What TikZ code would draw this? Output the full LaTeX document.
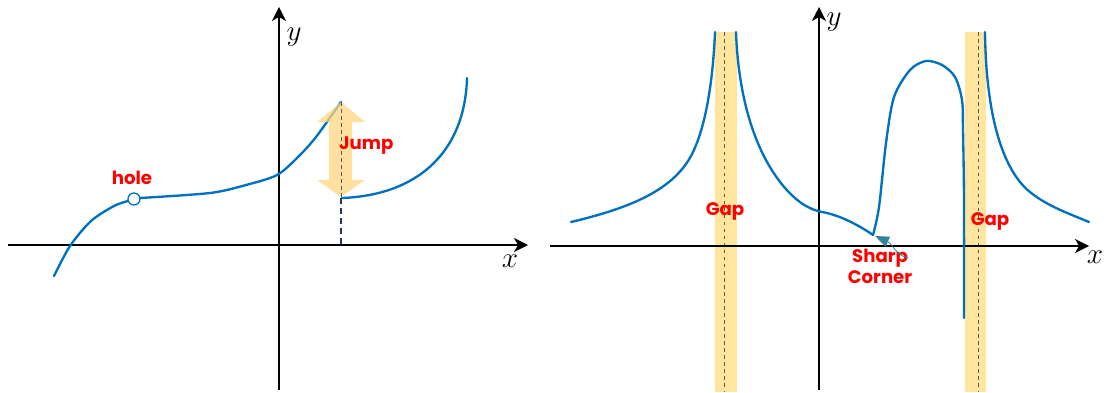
\documentclass[tikz,border=0pt]{standalone}
\usepackage{fontspec}
\newfontfamily\lblfont{Poppins}
\usepackage{tikz}
\usetikzlibrary{arrows.meta}
\definecolor{curveblue}{RGB}{0,112,192}
\definecolor{gapyellow}{RGB}{255,224,140}
\definecolor{jumpnavy}{RGB}{31,56,100}
\definecolor{cornerteal}{RGB}{49,132,155}
\tikzset{
  axis/.style={line width=1.5pt, -{Stealth[length=0.42cm, width=0.42cm, inset=0.12cm]}},
  graph/.style={curveblue, line width=2pt, line cap=round, line join=round},
  axislbl/.style={font=\fontsize{26}{28}\selectfont, inner sep=0pt},
  redlbl/.style={red, font=\lblfont\bfseries\fontsize{15.5}{17}\selectfont, inner sep=0pt},
  gapband/.style={fill=gapyellow, opacity=0.85},
  gapline/.style={black!65, dashed, line width=0.7pt},
  holept/.style={circle, draw=curveblue, fill=white, line width=1.1pt, minimum size=0.36cm, inner sep=0pt},
}

\begin{document}
\begin{tikzpicture}[x=0.03cm, y=-0.03cm]
	\useasboundingbox (0,0) rectangle (1104,392);
	%left graph: hole and jump
	\draw [axis] (8,245) -- (528,245);
	\draw [axis] (279,390) -- (279,7);
	\node [axislbl] (xlabL) at (510,261) {$x$};
	\node [axislbl] (ylabL) at (294,37) {$y$};
	\draw [graph] plot[smooth] coordinates {(54,276) (70,246) (91,221) (114,206) (128,201)};
	\node [holept] (hole) at (134,199) {};
	\draw [graph] plot[smooth] coordinates {(140,198) (210,193) (246,185) (277,175) (298,157) (316,137) (341,102)};
	\draw [graph] (342,198) .. controls (420,195) and (465,150) .. (467,78);
	\fill [gapyellow!90!orange, opacity=0.75] (341,102) -- (365,122) -- (352,122) -- (352,180) -- (365,180) -- (341,197)
		-- (317,180) -- (329,180) -- (329,122) -- (317,122) -- cycle;
	\draw [gapline] (341,102) -- (341,198);
	\draw [jumpnavy, line width=1.4pt, dash pattern=on 5pt off 3.5pt] (341,198) -- (341,245);
	\node [redlbl] (holelbl) at (132,178) {hole};
	\node [redlbl, anchor=west] (jumplbl) at (339,146) {Jump};
	%right graph: gaps and sharp corner
	\fill [gapband] (715,32) rectangle (737,392);
	\fill [gapband] (965,32) rectangle (986,392);
	\draw [gapline] (724,32) -- (724,392);
	\draw [gapline] (978,32) -- (978,392);
	\draw [axis] (550,246) -- (1089,246);
	\draw [axis] (819,390) -- (819,7);
	\node [axislbl] (xlabR) at (1095,257) {$x$};
	\node [axislbl] (ylabR) at (834,22) {$y$};
	\draw [graph] (571,222) .. controls (630,208) and (675,190) .. (693,152) .. controls (706,125) and (713,80) .. (715,32);
	\draw [graph] (736,32) .. controls (738,90) and (752,150) .. (785,188) .. controls (800,205) and (812,210) .. (822,212)
		.. controls (840,215) and (860,226) .. (873,235);
	\draw [graph] plot[smooth] coordinates {(873,235) (879,207) (886,143) (894,97) (910,70) (926,61) (942,65) (955,77) (962,100) (963,130) (964,200) (964,318)};
	\draw [graph] (985,32) .. controls (986,110) and (1000,157) .. (1020,182) .. controls (1036,202) and (1065,212) .. (1089,222);
	\coordinate (corner) at (875,236);
	\node [redlbl] (gapA) at (725,211) {Gap};
	\node [redlbl] (gapB) at (990,221) {Gap};
	\node [redlbl] (sharplbl) at (880,258) {Sharp};
	\node [redlbl] (cornerlbl) at (880,277) {Corner};
	\draw [cornerteal, line width=0.7pt, -{Triangle[length=0.42cm, width=0.32cm]}] (sharplbl.east) .. controls (895,255) and (893,244) .. (corner);
\end{tikzpicture}
\end{document}
